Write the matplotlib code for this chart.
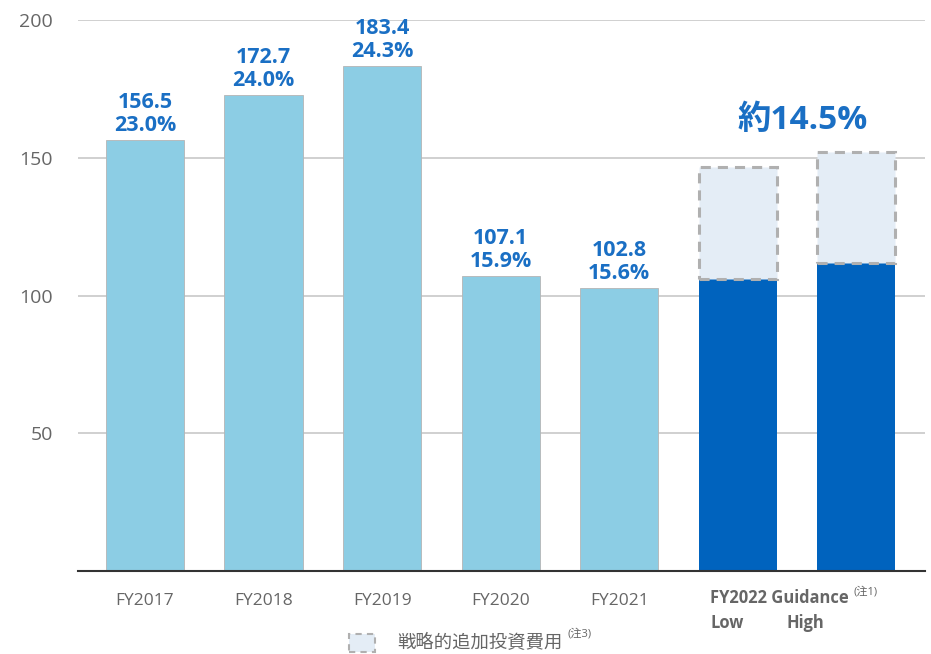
import matplotlib
matplotlib.use('Agg')
import matplotlib.pyplot as plt
from matplotlib.patches import Rectangle

plt.rcParams['font.family'] = ['Open Sans', 'Noto Sans CJK JP', 'DejaVu Sans']

# data
years = ['FY2017', 'FY2018', 'FY2019', 'FY2020', 'FY2021']
profits = [156.5, 172.7, 183.4, 107.1, 102.8]
margins = ['23.0%', '24.0%', '24.3%', '15.9%', '15.6%']
guide_labels = ['Low', 'High']
guide_base = [106.1, 111.9]
guide_extra = [40.6, 40.3]
guide_margin = '約14.5%'
yticks = [50, 100, 150, 200]

light_blue = '#8ccde4'
dark_blue = '#0063be'
pale = '#e4edf6'
label_blue = '#1a6fc4'
gray_txt = '#666666'

fig = plt.figure(figsize=(9.31, 6.54), dpi=100)
ax = fig.add_axes([0.0838, 0.1269, 0.9098, 0.8425])

x_hist = list(range(len(years)))
x_guide = [len(years) + i for i in range(len(guide_labels))]
w = 0.66

ax.bar(x_hist, profits, width=w, color=light_blue, edgecolor='#b5b5b5', linewidth=0.6, zorder=3)
for x, v, m in zip(x_hist, profits, margins):
    ax.text(x, v + 1.5, f'{v}\n{m}', ha='center', va='bottom', fontsize=15.5,
            fontweight='bold', color=label_blue, linespacing=1.1, zorder=4)

ax.bar(x_guide, guide_base, width=w, color=dark_blue, zorder=3)
ax.bar(x_guide, guide_extra, bottom=guide_base, width=w, color=pale,
       edgecolor='#b0b0b0', linewidth=2.2, linestyle=(0, (3.3, 2.3)), zorder=3)
ax.text(sum(x_guide) / 2 + 0.05, 160.5, guide_margin, ha='center', va='baseline', fontsize=24,
        fontweight='bold', color=label_blue)

ax.set_xlim(-0.565, 6.58)
ax.set_ylim(0, 200)
ax.set_yticks(yticks)
ax.set_yticklabels([str(t) for t in yticks], fontsize=14, color=gray_txt)
ax.yaxis.grid(True, color='#c8c8c8', linewidth=1.2, zorder=0)
ax.tick_params(axis='y', length=0, pad=18)
ax.set_xticks(x_hist)
ax.set_xticklabels(years, fontsize=12.5, color=gray_txt)
ax.tick_params(axis='x', length=0, pad=15.5)
for s in ['top', 'right', 'left']:
    ax.spines[s].set_visible(False)
ax.spines['bottom'].set_color('#333333')
ax.spines['bottom'].set_linewidth(1.5)
ax.spines['bottom'].set_zorder(5)

# guidance labels
fig.text(710 / 931, 1 - 598 / 654, 'FY2022 Guidance', fontsize=11.9, fontweight='bold',
         color=gray_txt, va='center', ha='left')
fig.text(854 / 931, 1 - 592 / 654, '(注1)', fontsize=8, color=gray_txt, va='center', ha='left')
fig.text(710 / 931, 1 - 623 / 654, guide_labels[0], fontsize=11.9, fontweight='bold',
         color=gray_txt, va='center', ha='left')
fig.text(787 / 931, 1 - 623 / 654, guide_labels[1], fontsize=11.9, fontweight='bold',
         color=gray_txt, va='center', ha='left')

# legend
fig.patches.append(Rectangle((349 / 931, 1 - 652 / 654), 26 / 931, 18 / 654,
                             transform=fig.transFigure, facecolor=pale, edgecolor='#b0b0b0',
                             linewidth=1.5, linestyle=(0, (3, 2.5))))
fig.text(397 / 931, 1 - 643 / 654, '戦略的追加投資費用', fontsize=13.2, color=gray_txt,
         va='center', ha='left')
fig.text(568 / 931, 1 - 634 / 654, '(注3)', fontsize=8, color=gray_txt, va='center', ha='left')

fig.savefig('out.png', dpi=100)
